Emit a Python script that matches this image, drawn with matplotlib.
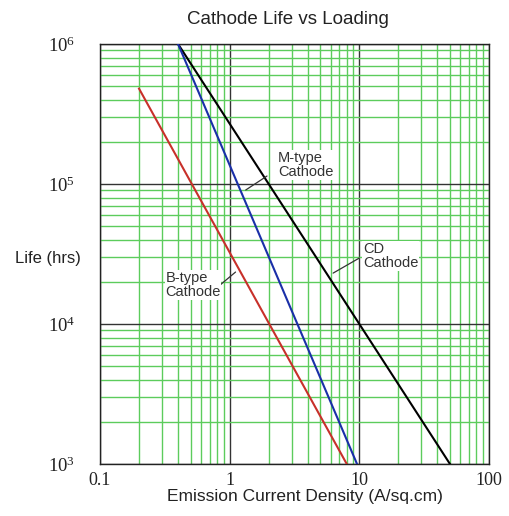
import numpy as np
import matplotlib
matplotlib.use('Agg')
import matplotlib.pyplot as plt
from matplotlib.ticker import LogLocator, FixedLocator, NullFormatter

# endpoints of each cathode curve (current density A/sq.cm, life hrs)
cd_x = [0.4, 50]
cd_y = [1e6, 1e3]
m_x = [0.4, 9.6]
m_y = [1e6, 1e3]
b_x = [0.2, 8.0]
b_y = [4.8e5, 1e3]

x_ticks = [0.1, 1, 10, 100]
x_tick_labels = ['0.1', '1', '10', '100']
y_ticks = [1e3, 1e4, 1e5, 1e6]
y_tick_labels = [r'$\mathregular{10^3}$', r'$\mathregular{10^4}$',
                 r'$\mathregular{10^5}$', r'$\mathregular{10^6}$']

plt.rcParams['font.family'] = ['Liberation Sans', 'DejaVu Sans']

fig = plt.figure(figsize=(5.09, 5.16), dpi=100)
ax = fig.add_axes([100 / 509, 1 - 464 / 516, 389 / 509, 420 / 516])

ax.set_xscale('log')
ax.set_yscale('log')
ax.set_xlim(0.1, 100)
ax.set_ylim(1e3, 1e6)

# grid: green minor, black decades
ax.xaxis.set_major_locator(FixedLocator(x_ticks))
ax.yaxis.set_major_locator(FixedLocator(y_ticks))
ax.xaxis.set_minor_locator(LogLocator(base=10, subs=np.arange(2, 10)))
ax.yaxis.set_minor_locator(LogLocator(base=10, subs=np.arange(2, 10)))
ax.xaxis.set_minor_formatter(NullFormatter())
ax.yaxis.set_minor_formatter(NullFormatter())
ax.grid(which='minor', color='#5ccc5c', linewidth=1.0)
ax.grid(which='major', color='#333333', linewidth=1.0)
ax.set_axisbelow(True)
ax.tick_params(which='both', length=0)
for s in ax.spines.values():
    s.set_color('#222222')
    s.set_linewidth(1.0)

ax.set_xticklabels(x_tick_labels, fontsize=13, family='Liberation Serif', color='#222222')
ax.set_yticklabels(y_tick_labels, fontsize=13.5, family='Liberation Serif', color='#222222')
ax.tick_params(axis='x', pad=6)
ax.tick_params(axis='y', pad=18)

ax.plot(cd_x, cd_y, color='black', linewidth=1.5, zorder=3)
ax.plot(m_x, m_y, color='#1a2fa8', linewidth=1.5, zorder=3)
ax.plot(b_x, b_y, color='#c8302a', linewidth=1.5, zorder=3)

# labels with leader lines
box = dict(facecolor='white', edgecolor='none', pad=0.5)
lead = dict(arrowstyle='-', color='#333333', linewidth=0.9, shrinkA=0, shrinkB=0)
ax.annotate('', xy=(1.33, 9.06e4), xytext=(1.94, 1.14e5), arrowprops=lead, zorder=4)
ax.text(2.36, 1.37e5, 'M-type\nCathode', fontsize=10.5, va='center', ha='left',
        color='#333333', bbox=box, linespacing=1.05, zorder=4)
ax.annotate('', xy=(6.28, 2.31e4), xytext=(10.0, 2.96e4), arrowprops=lead, zorder=4)
ax.text(10.7, 3.06e4, 'CD\nCathode', fontsize=10.5, va='center', ha='left',
        color='#333333', bbox=box, linespacing=1.05, zorder=4)
ax.annotate('', xy=(0.81, 1.84e4), xytext=(1.11, 2.35e4), arrowprops=lead, zorder=4)
ax.text(0.319, 1.9e4, 'B-type\nCathode', fontsize=10.5, va='center', ha='left',
        color='#333333', bbox=box, linespacing=1.05, zorder=4)

fig.text(288 / 509, 1 - 20 / 516, 'Cathode Life vs Loading', fontsize=13.5,
         ha='center', va='center', color='#222222')
fig.text(305 / 509, 1 - 497 / 516, 'Emission Current Density (A/sq.cm)', fontsize=12.5,
         ha='center', va='center', color='#222222')
fig.text(15 / 509, 1 - 259 / 516, 'Life (hrs)', fontsize=12,
         ha='left', va='center', color='#222222')

fig.savefig('out.png', dpi=100)
